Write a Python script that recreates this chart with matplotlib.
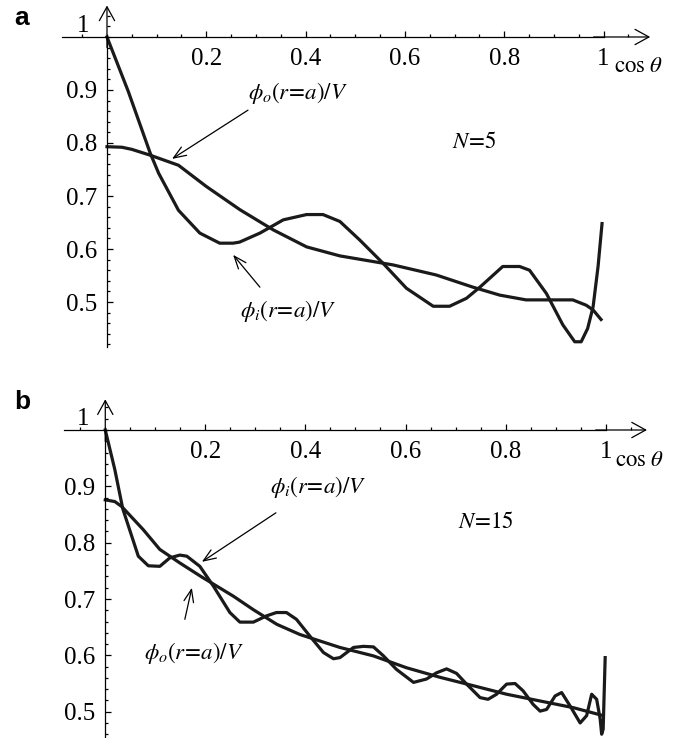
import matplotlib
matplotlib.use("Agg")
import matplotlib.pyplot as plt
from matplotlib.ticker import MultipleLocator, FixedLocator

plt.rcParams['mathtext.fontset'] = 'stix'
plt.rcParams['font.family'] = ['Liberation Serif', 'DejaVu Serif']

# ---- panel a, N = 5 ----
x_i_a = [0.0, 0.043, 0.087, 0.104, 0.144, 0.187, 0.227, 0.254, 0.267, 0.308, 0.355,
         0.402, 0.435, 0.469, 0.509, 0.556, 0.603, 0.657, 0.690, 0.724, 0.751, 0.797,
         0.831, 0.851, 0.885, 0.918, 0.942, 0.955, 0.968, 0.979, 0.989, 0.997]
phi_i_a = [1.0, 0.897, 0.781, 0.743, 0.673, 0.630, 0.611, 0.611, 0.613, 0.630, 0.655,
           0.665, 0.665, 0.652, 0.617, 0.573, 0.526, 0.492, 0.492, 0.507, 0.528, 0.567,
           0.567, 0.560, 0.516, 0.457, 0.425, 0.425, 0.450, 0.491, 0.567, 0.648]
x_o_a = [0.0, 0.03, 0.05, 0.087, 0.144, 0.200, 0.268, 0.335, 0.402, 0.469, 0.576,
         0.663, 0.737, 0.791, 0.844, 0.938, 0.965, 0.979, 0.995]
phi_o_a = [0.793, 0.792, 0.788, 0.777, 0.758, 0.718, 0.674, 0.636, 0.604, 0.587, 0.570,
           0.551, 0.528, 0.513, 0.504, 0.504, 0.494, 0.485, 0.467]

# ---- panel b, N = 15 ----
x_i_b = [0.0, 0.019, 0.035, 0.066, 0.086, 0.109, 0.129, 0.149, 0.163, 0.189, 0.216,
         0.249, 0.269, 0.296, 0.322, 0.342, 0.362, 0.382, 0.409, 0.436, 0.456, 0.469,
         0.496, 0.516, 0.536, 0.556, 0.582, 0.616, 0.642, 0.662, 0.682, 0.702, 0.722,
         0.749, 0.765, 0.782, 0.802, 0.819, 0.835, 0.855, 0.869, 0.882, 0.899, 0.912,
         0.929, 0.949, 0.962, 0.972, 0.982, 0.989, 0.992, 0.995, 0.999]
phi_i_b = [1.0, 0.930, 0.860, 0.776, 0.759, 0.758, 0.773, 0.778, 0.776, 0.758, 0.723,
           0.676, 0.659, 0.659, 0.670, 0.676, 0.676, 0.664, 0.634, 0.605, 0.594, 0.596,
           0.614, 0.616, 0.615, 0.599, 0.575, 0.552, 0.558, 0.569, 0.576, 0.568, 0.549,
           0.525, 0.522, 0.531, 0.549, 0.550, 0.537, 0.513, 0.501, 0.504, 0.528, 0.534,
           0.510, 0.480, 0.493, 0.531, 0.522, 0.487, 0.460, 0.469, 0.596]
x_o_b = [0.0, 0.019, 0.033, 0.076, 0.109, 0.149, 0.193, 0.256, 0.296, 0.343, 0.389,
         0.469, 0.536, 0.602, 0.669, 0.736, 0.802, 0.869, 0.936, 0.995]
phi_o_b = [0.876, 0.873, 0.864, 0.823, 0.788, 0.764, 0.739, 0.705, 0.681, 0.655, 0.637,
           0.614, 0.599, 0.578, 0.561, 0.546, 0.531, 0.519, 0.507, 0.493]

x_ticks = [0.2, 0.4, 0.6, 0.8, 1.0]
x_tick_labels = ['0.2', '0.4', '0.6', '0.8', '1']
y_ticks = [0.5, 0.6, 0.7, 0.8, 0.9]
y_tick_labels = ['0.5', '0.6', '0.7', '0.8', '0.9']

fig = plt.figure(figsize=(6.81, 7.38), dpi=100)
W, H = 681.0, 738.0

LABEL_FS = 18
NOTE_FS = 16.5
CURVE_LW = 2.3
AXIS_LW = 0.9
AXIS_HEAD = '->,head_length=1.0,head_width=0.55'


def setup_axes(rect, xlim, ylim):
    ax = fig.add_axes(rect)
    ax.set_xlim(*xlim)
    ax.set_ylim(*ylim)
    ax.patch.set_alpha(0)
    for s in ('top', 'right'):
        ax.spines[s].set_visible(False)
    ax.spines['left'].set_position(('data', 0))
    ax.spines['bottom'].set_position(('data', 1))
    ax.spines['left'].set_linewidth(AXIS_LW)
    ax.spines['bottom'].set_linewidth(AXIS_LW)
    ax.spines['bottom'].set_bounds(xlim[0], 1.0)
    ax.spines['left'].set_bounds(ylim[0], 1.0)
    ax.xaxis.set_major_locator(FixedLocator(x_ticks))
    ax.set_xticklabels(x_tick_labels)
    ax.xaxis.set_minor_locator(MultipleLocator(0.05))
    ax.yaxis.set_major_locator(FixedLocator(y_ticks))
    ax.set_yticklabels(y_tick_labels)
    ax.yaxis.set_minor_locator(MultipleLocator(0.02))
    ax.tick_params(axis='x', which='major', direction='in', length=4, width=AXIS_LW,
                   labelsize=LABEL_FS, pad=8)
    ax.tick_params(axis='x', which='minor', direction='in', length=2.5, width=AXIS_LW)
    ax.tick_params(axis='y', which='major', direction='in', length=4, width=AXIS_LW,
                   labelsize=LABEL_FS, pad=7)
    ax.tick_params(axis='y', which='minor', direction='in', length=2.5, width=AXIS_LW)
    # axis arrows
    ax.annotate('', xy=(xlim[1], 1.0), xytext=(0.98, 1.0),
                arrowprops=dict(arrowstyle=AXIS_HEAD, lw=AXIS_LW, color='black',
                                shrinkA=0, shrinkB=0))
    ax.annotate('', xy=(0.0, ylim[1]), xytext=(0.0, 0.98),
                arrowprops=dict(arrowstyle=AXIS_HEAD, lw=AXIS_LW, color='black',
                                shrinkA=0, shrinkB=0))
    return ax


def add_note(ax, text, xy, xytext_line, text_xy):
    ax.annotate('', xy=xy, xytext=xytext_line,
                arrowprops=dict(arrowstyle='->,head_length=0.9,head_width=0.35',
                                lw=0.9, color='black', shrinkA=0, shrinkB=0))
    ax.text(text_xy[0], text_xy[1], text, fontsize=NOTE_FS, ha='center', va='center')


# panel a
xa = (-0.0906, 1.094)
ya = (0.4151, 1.0594)
ax_a = setup_axes([62 / W, 0.5298, 588.2 / W, 341.5 / H], xa, ya)
ax_a.plot(x_i_a, phi_i_a, color='#1a1a1a', lw=CURVE_LW, solid_joinstyle='round')
ax_a.plot(x_o_a, phi_o_a, color='#1a1a1a', lw=CURVE_LW, solid_joinstyle='round')
ax_a.text(-0.048, 1.021, '1', fontsize=LABEL_FS, ha='center', va='center')
ax_a.text(1.022, 0.945, r'$\mathrm{cos}\ \theta$', fontsize=NOTE_FS, ha='left', va='center')
ax_a.text(0.740, 0.80, r'$N\!=\!5$', fontsize=NOTE_FS, ha='center', va='center')
add_note(ax_a, r'$\phi_o(r\!=\!a)/V$', (0.131, 0.770), (0.284, 0.862), (0.385, 0.894))
add_note(ax_a, r'$\phi_i(r\!=\!a)/V$', (0.254, 0.589), (0.308, 0.528), (0.364, 0.483))
fig.text(22 / W, 1 - 18 / H, 'a', fontsize=19, fontweight='bold',
         family='Liberation Sans', ha='center', va='center')

# panel b
xb = (-0.0825, 1.0826)
yb = (0.4533, 1.0545)
ax_b = setup_axes([64 / W, 0.0, 583 / W, 338.7 / H], xb, yb)
ax_b.plot(x_i_b, phi_i_b, color='#1a1a1a', lw=CURVE_LW, solid_joinstyle='round')
ax_b.plot(x_o_b, phi_o_b, color='#1a1a1a', lw=CURVE_LW, solid_joinstyle='round')
ax_b.text(-0.044, 1.019, '1', fontsize=LABEL_FS, ha='center', va='center')
ax_b.text(1.018, 0.946, r'$\mathrm{cos}\ \theta$', fontsize=NOTE_FS, ha='left', va='center')
ax_b.text(0.761, 0.835, r'$N\!=\!15$', fontsize=NOTE_FS, ha='center', va='center')
add_note(ax_b, r'$\phi_i(r\!=\!a)/V$', (0.193, 0.766), (0.341, 0.853), (0.425, 0.899))
add_note(ax_b, r'$\phi_o(r\!=\!a)/V$', (0.173, 0.720), (0.159, 0.664), (0.178, 0.605))
fig.text(22 / W, 1 - 402 / H, 'b', fontsize=19, fontweight='bold',
         family='Liberation Sans', ha='center', va='center')

fig.savefig('out.png', dpi=100)
